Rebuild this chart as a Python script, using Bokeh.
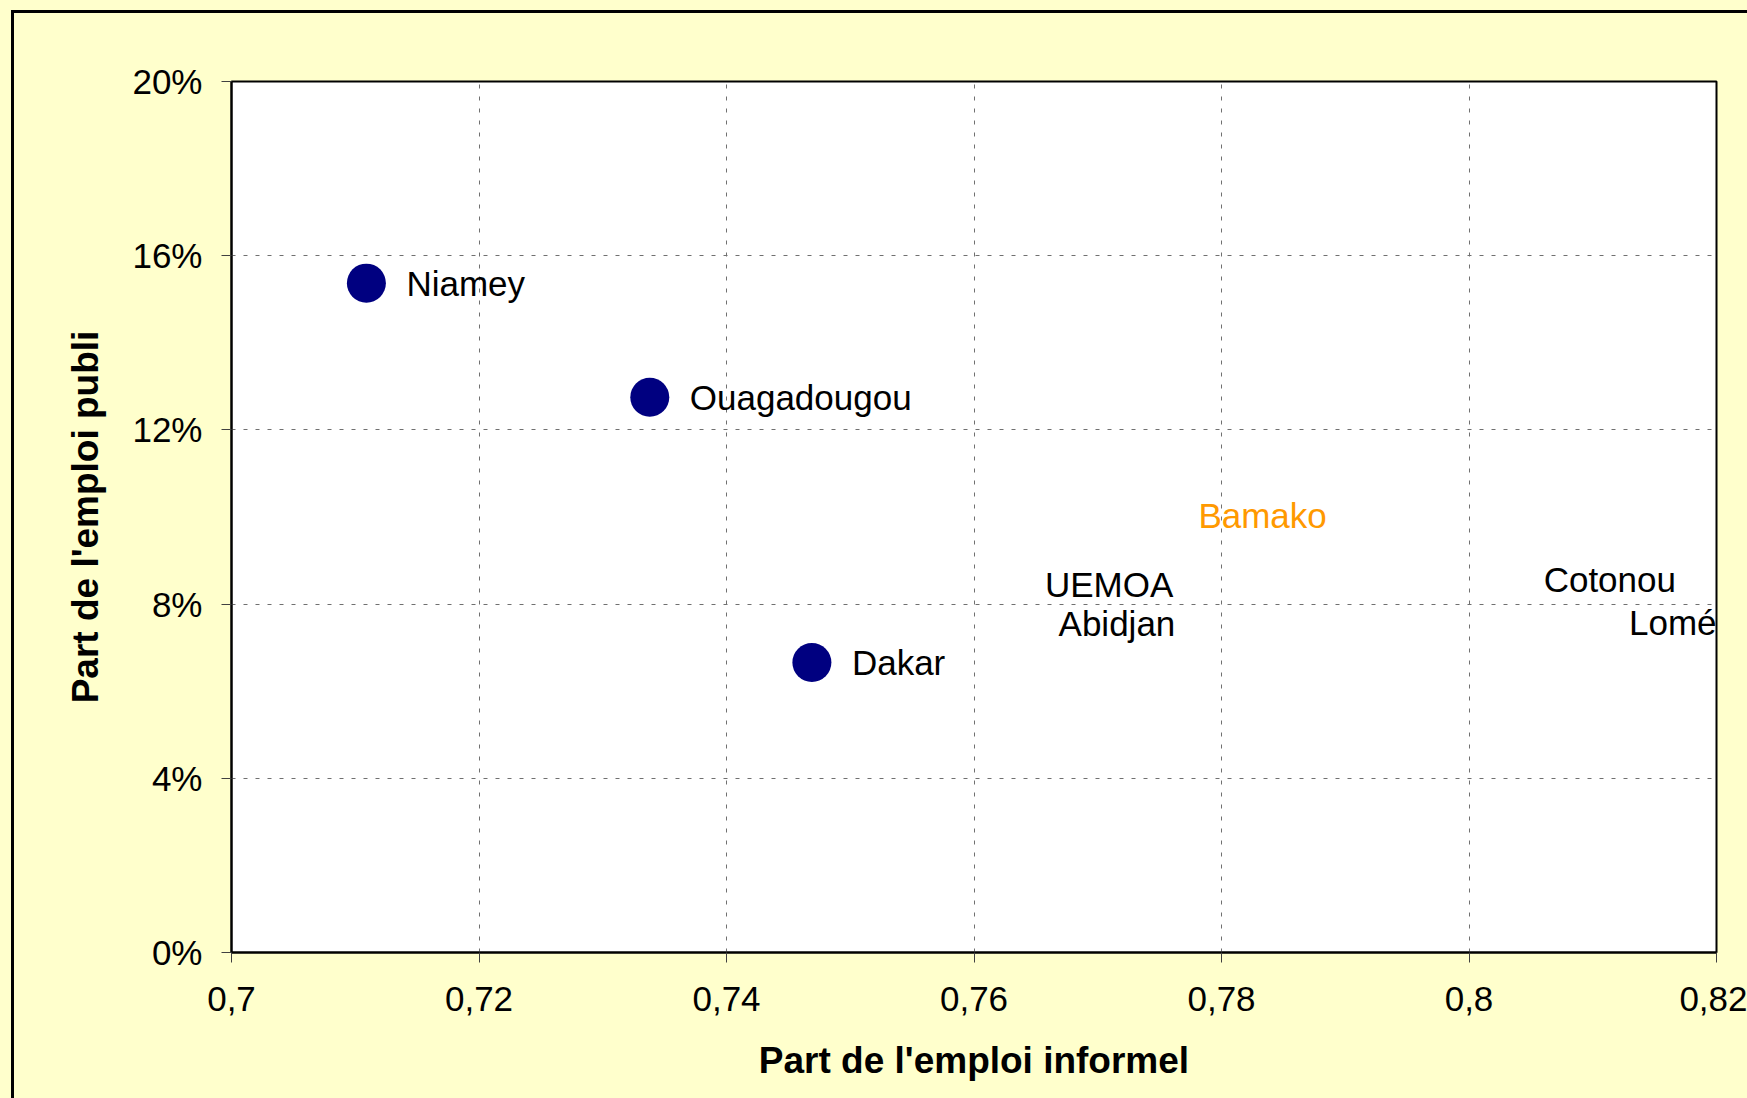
from bokeh.plotting import figure
from bokeh.models import ColumnDataSource, Range1d, FixedTicker
from bokeh.embed import file_html
from bokeh.resources import INLINE
from bokeh.core.properties import value

# ---- data ----
marked_cities = ["Niamey", "Ouagadougou", "Dakar"]
marked_informel = [0.7109, 0.7338, 0.7469]
marked_public = [0.1537, 0.1275, 0.0666]

label_cities = ["Bamako", "UEMOA", "Abidjan", "Cotonou", "Lomé"]
label_informel = [0.7749, 0.7625, 0.7636, 0.8028, 0.8097]
label_public = [0.1004, 0.0844, 0.0755, 0.0856, 0.0758]

x_ticks = [0.70, 0.72, 0.74, 0.76, 0.78, 0.80, 0.82]
x_tick_labels = ["0,7", "0,72", "0,74", "0,76", "0,78", "0,8", "0,82"]
y_ticks = [0.0, 0.04, 0.08, 0.12, 0.16, 0.20]
y_tick_labels = ["0%", "4%", "8%", "12%", "16%", "20%"]

x_title = "Part de l'emploi informel"
y_title = "Part de l'emploi publi"

FONT = "Liberation Sans"

p = figure(
    width=1747, height=1098,
    x_range=Range1d(0.70, 0.82), y_range=Range1d(0.0, 0.20),
    output_backend="svg", toolbar_location=None,
    min_border_left=231, min_border_top=81, min_border_right=31, min_border_bottom=146,
    styles={
        "background-color": "#FFFFCC",
        "background-image": "linear-gradient(#000, #000), linear-gradient(#000, #000)",
        "background-position": "11px 10px, 11px 10px",
        "background-size": "3px 100%, 100% 3px",
        "background-repeat": "no-repeat, no-repeat",
    },
)
p.border_fill_color = None
p.background_fill_color = "white"
p.outline_line_color = "black"
p.outline_line_width = 2

# grid
for g in (p.xgrid, p.ygrid):
    g.grid_line_color = "#707070"
    g.grid_line_dash = "4 8"
    g.grid_line_width = 1
p.xgrid.ticker = FixedTicker(ticks=x_ticks)
p.ygrid.ticker = FixedTicker(ticks=y_ticks)

# axes
p.xaxis.ticker = FixedTicker(ticks=x_ticks)
p.yaxis.ticker = FixedTicker(ticks=y_ticks)
p.xaxis.major_label_overrides = {t: l for t, l in zip(x_ticks, x_tick_labels)}
p.yaxis.major_label_overrides = {t: l for t, l in zip(y_ticks, y_tick_labels)}
for ax in (p.xaxis, p.yaxis):
    ax.axis_line_color = "black"
    ax.axis_line_width = 2
    ax.major_tick_line_color = "#404040"
    ax.major_tick_line_width = 1
    ax.major_tick_out = 10
    ax.major_tick_in = 0
    ax.minor_tick_line_color = None
    ax.major_label_text_font = FONT
    ax.major_label_text_font_size = "35px"
    ax.major_label_text_color = "black"
    ax.axis_label_text_font = FONT
    ax.axis_label_text_font_size = "37px"
    ax.axis_label_text_font_style = "bold"
    ax.axis_label_text_color = "black"
p.xaxis.axis_label = x_title
p.yaxis.axis_label = y_title
p.xaxis.major_label_standoff = 24
p.yaxis.major_label_standoff = 19
p.xaxis.axis_label_standoff = 26
p.yaxis.axis_label_standoff = 23

# marked points
src_m = ColumnDataSource(dict(x=marked_informel, y=marked_public, name=marked_cities))
p.scatter("x", "y", source=src_m, size=39, marker="circle",
          fill_color="#000080", line_color=None)
p.text("x", "y", text="name", source=src_m, x_offset=40,
       text_align="left", text_baseline="middle",
       text_font=value(FONT), text_font_size="35px", text_color="black")

# label-only points
label_colors = ["#FF9900" if c == "Bamako" else "black" for c in label_cities]
src_l = ColumnDataSource(dict(x=label_informel, y=label_public, name=label_cities, color=label_colors))
p.text("x", "y", text="name", source=src_l, x_offset=40,
       text_align="left", text_baseline="middle",
       text_font=value(FONT), text_font_size="35px", text_color="color")

open("out.html", "w").write(file_html(p, INLINE))
